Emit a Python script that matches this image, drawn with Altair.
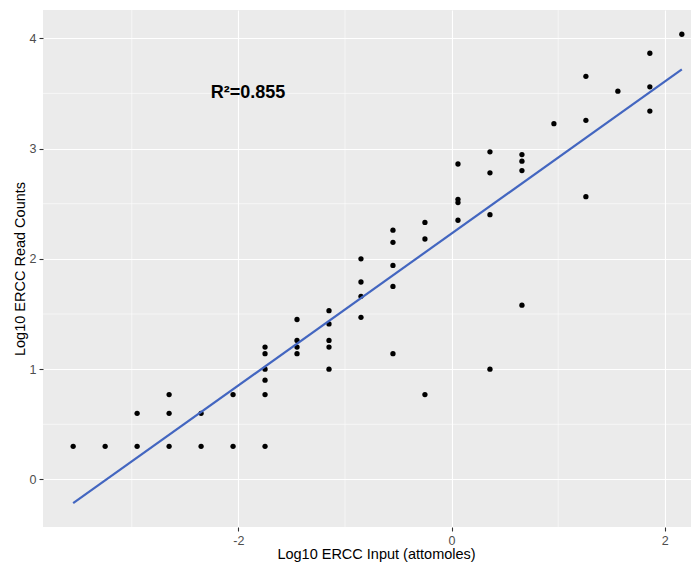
import altair as alt
import pandas as pd

# ---- data ----
x_groups = [-3.55, -3.25, -2.95, -2.65, -2.35, -2.05, -1.75, -1.45, -1.15, -0.85,
            -0.55, -0.25, 0.06, 0.36, 0.66, 0.96, 1.26, 1.56, 1.86, 2.16]
y_groups = [
    [0.30],
    [0.30],
    [0.60, 0.30],
    [0.77, 0.60, 0.30],
    [0.60, 0.30],
    [0.77, 0.30],
    [1.20, 1.14, 1.00, 0.90, 0.77, 0.30],
    [1.45, 1.26, 1.20, 1.14],
    [1.53, 1.41, 1.26, 1.20, 1.00],
    [2.00, 1.79, 1.66, 1.47],
    [2.26, 2.15, 1.94, 1.75, 1.14],
    [2.33, 2.18, 0.77],
    [2.86, 2.54, 2.51, 2.35],
    [2.97, 2.78, 2.40, 1.00],
    [2.945, 2.885, 2.80, 1.58],
    [3.225],
    [3.655, 3.256, 2.564],
    [3.52],
    [3.864, 3.56, 3.34],
    [4.036],
]

x_ticks = [-2, 0, 2]
y_ticks = [0, 1, 2, 3, 4]
x_minor = [-3, -1, 1]
y_minor = [0.5, 1.5, 2.5, 3.5]

x_domain = [-3.833, 2.246]
y_domain = [-0.431, 4.256]

x_title = "Log10 ERCC Input (attomoles)"
y_title = "Log10 ERCC Read Counts"

annot_text = "R²=0.855"
annot_x = [-1.91]
annot_y = [3.50]

# ---- build tables ----
rows = []
for xv, ys in zip(x_groups, y_groups):
    for yv in ys:
        rows.append({"x": xv, "y": yv})
df = pd.DataFrame(rows)
df_xminor = pd.DataFrame({"x": x_minor})
df_yminor = pd.DataFrame({"y": y_minor})
df_annot = pd.DataFrame({"x": annot_x, "y": annot_y})

xs = alt.Scale(domain=x_domain, nice=False, zero=False)
ys_ = alt.Scale(domain=y_domain, nice=False, zero=False)

FONT = "Liberation Sans"
HYPHEN_LABEL = "replace(datum.label, '\u2212', '-')"

x_axis = alt.Axis(values=x_ticks, grid=True, labelExpr=HYPHEN_LABEL,
                  gridColor="white", gridWidth=1.1, domain=False,
                  tickColor="#333333", tickSize=4, tickWidth=1.1,
                  labelColor="#4D4D4D", labelFontSize=12.5, labelFont=FONT,
                  labelPadding=3, titleFont=FONT, titleFontSize=14.5,
                  titleFontWeight="normal", titleColor="black", titlePadding=1,
                  titleX=333, titleAlign="center")
y_axis = alt.Axis(values=y_ticks, grid=True,
                  gridColor="white", gridWidth=1.1, domain=False,
                  tickColor="#333333", tickSize=4, tickWidth=1.1,
                  labelColor="#4D4D4D", labelFontSize=12.5, labelFont=FONT,
                  labelPadding=3, titleFont=FONT, titleFontSize=14.5,
                  titleFontWeight="normal", titleColor="black", titlePadding=2)


def X(field="x"):
    return alt.X(f"{field}:Q", scale=xs, axis=x_axis, title=x_title)


def Y(field="y"):
    return alt.Y(f"{field}:Q", scale=ys_, axis=y_axis, title=y_title)


minor_x = alt.Chart(df_xminor).mark_rule(color="white", strokeWidth=0.55).encode(x=X())
minor_y = alt.Chart(df_yminor).mark_rule(color="white", strokeWidth=0.55).encode(y=Y())

points = alt.Chart(df).mark_circle(size=28, color="black", opacity=1).encode(x=X(), y=Y())

line = alt.Chart(df).transform_regression("x", "y").mark_line(
    color="#4366C0", strokeWidth=2.2).encode(x=X(), y=Y())

annot = alt.Chart(df_annot).mark_text(
    text=annot_text, font=FONT, fontWeight="bold", fontSize=18, color="black",
    baseline="middle", align="center").encode(x=X(), y=Y())

chart = alt.layer(minor_x, minor_y, points, line, annot).properties(
    width=648, height=517,
    autosize=alt.AutoSizeParams(type="none"),
    padding={"left": 35, "top": 2, "right": 0, "bottom": 37},
    background="white",
).configure_view(fill="#EBEBEB", strokeWidth=0)

chart.save("out.html", embed_options={"renderer": "svg", "actions": False})
